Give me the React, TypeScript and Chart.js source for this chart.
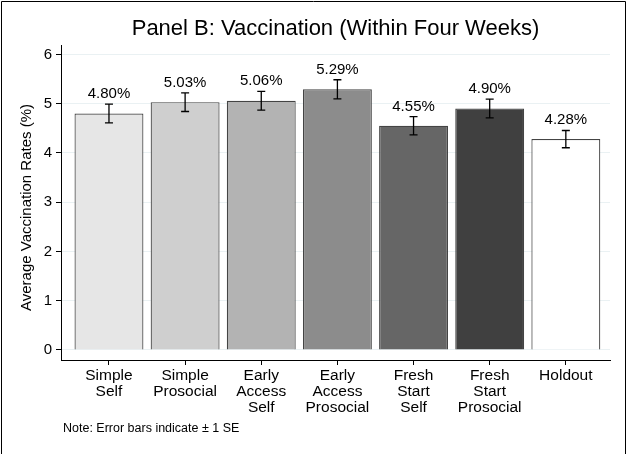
import React, { useEffect, useRef } from "react";
import { Chart, registerables } from "chart.js";

Chart.register(...registerables);

const categories: string[][] = [
  ["Simple", "Self"],
  ["Simple", "Prosocial"],
  ["Early", "Access", "Self"],
  ["Early", "Access", "Prosocial"],
  ["Fresh", "Start", "Self"],
  ["Fresh", "Start", "Prosocial"],
  ["Holdout"],
];
const rates = [4.8, 5.03, 5.06, 5.29, 4.55, 4.9, 4.28];
const standardErrors = [0.19, 0.19, 0.19, 0.195, 0.185, 0.19, 0.175];
const barColors = ["#e6e6e6", "#cfcfcf", "#b3b3b3", "#8c8c8c", "#666666", "#404040", "#ffffff"];
const yTicks = [0, 1, 2, 3, 4, 5, 6];
const titleText = "Panel B: Vaccination (Within Four Weeks)";
const yTitleText = "Average Vaccination Rates (%)";
const noteText = "Note: Error bars indicate \u00b1 1 SE";

const FONT = "'Liberation Sans', Arial, Helvetica, sans-serif";

const extrasPlugin = {
  id: "extras",
  beforeDraw(chart: any) {
    const ctx = chart.ctx;
    ctx.save();
    ctx.fillStyle = "#ffffff";
    ctx.fillRect(0, 0, chart.width, chart.height);
    ctx.restore();
  },
  afterDatasetsDraw(chart: any) {
    const ctx = chart.ctx;
    const meta = chart.getDatasetMeta(0);
    const yScale = chart.scales.y;
    ctx.save();
    meta.data.forEach((bar: any, i: number) => {
      const v = rates[i];
      const se = standardErrors[i];
      const x = bar.x;
      const yTop = yScale.getPixelForValue(v + se);
      const yBot = yScale.getPixelForValue(v - se);
      ctx.strokeStyle = "#000";
      ctx.lineWidth = 1.3;
      ctx.beginPath();
      ctx.moveTo(x, yTop);
      ctx.lineTo(x, yBot);
      ctx.moveTo(x - 4, yTop);
      ctx.lineTo(x + 4, yTop);
      ctx.moveTo(x - 4, yBot);
      ctx.lineTo(x + 4, yBot);
      ctx.stroke();
      ctx.fillStyle = "#000";
      ctx.font = `15px ${FONT}`;
      ctx.textAlign = "center";
      ctx.textBaseline = "alphabetic";
      ctx.fillText(v.toFixed(2) + "%", x, yTop - 6);
    });
    ctx.restore();
  },
  afterDraw(chart: any) {
    const ctx = chart.ctx;
    const area = chart.chartArea;
    ctx.save();
    ctx.fillStyle = "#000";
    // title
    ctx.font = `22px ${FONT}`;
    ctx.textAlign = "center";
    ctx.textBaseline = "alphabetic";
    ctx.fillText(titleText, (area.left + area.right) / 2, 35);
    // y title
    ctx.save();
    ctx.translate(27, (area.top + area.bottom) / 2 + 5);
    ctx.rotate(-Math.PI / 2);
    ctx.font = `15px ${FONT}`;
    ctx.textAlign = "center";
    ctx.textBaseline = "middle";
    ctx.fillText(yTitleText, 0, 0);
    ctx.restore();
    // note
    ctx.font = `12.5px ${FONT}`;
    ctx.textAlign = "left";
    ctx.textBaseline = "alphabetic";
    ctx.fillText(noteText, 63, 432);
    // frame
    ctx.strokeStyle = "#000";
    ctx.lineWidth = 1;
    ctx.beginPath();
    ctx.moveTo(1.5, chart.height);
    ctx.lineTo(1.5, 1.5);
    ctx.lineTo(625.5, 1.5);
    ctx.lineTo(625.5, chart.height);
    ctx.stroke();
    ctx.restore();
  },
};

export default function App() {
  const canvasRef = useRef<HTMLCanvasElement | null>(null);

  useEffect(() => {
    document.body.style.margin = "0";
    const canvas = canvasRef.current;
    if (!canvas) return;
    const chart = new Chart(canvas, {
      type: "bar",
      data: {
        datasets: [
          {
            data: rates.map((v, i) => ({ x: i, y: v })) as any,
            backgroundColor: barColors,
            borderColor: "#444444",
            borderWidth: 1.2,
            barPercentage: 0.905,
            categoryPercentage: 1,
          },
        ],
      },
      options: {
        animation: false,
        responsive: false,
        devicePixelRatio: 1,
        layout: { padding: { top: 45, right: 18, bottom: 0, left: 0 } },
        plugins: {
          legend: { display: false },
          tooltip: { enabled: false },
          title: { display: false },
        },
        scales: {
          x: {
            type: "linear",
            min: -0.63,
            max: 6.58,
            offset: false,
            afterBuildTicks: (s: any) => {
              s.ticks = categories.map((_, i) => ({ value: i }));
            },
            afterFit: (s: any) => {
              s.height = 94;
            },
            ticks: {
              autoSkip: false,
              maxRotation: 0,
              minRotation: 0,
              padding: 3,
              color: "#000",
              font: { family: FONT, size: 15.5, lineHeight: 1.03 },
              callback: (v: any) => categories[v as number] ?? "",
            },
            grid: {
              offset: false,
              drawOnChartArea: false,
              drawTicks: true,
              tickLength: 5,
              tickColor: "#000",
            },
            border: { display: true, color: "#000", width: 1 },
          },
          y: {
            type: "linear",
            min: -0.203,
            max: 6.19,
            afterBuildTicks: (s: any) => {
              s.ticks = yTicks.map((v) => ({ value: v }));
            },
            afterFit: (s: any) => {
              s.width = 61;
            },
            ticks: {
              padding: 4,
              color: "#000",
              font: { family: FONT, size: 15 },
            },
            grid: {
              color: "#eaf1f3",
              lineWidth: 1,
              tickColor: "#000",
              tickLength: 5,
            },
            border: { display: true, color: "#000", width: 1 },
          },
        },
      },
      plugins: [extrasPlugin],
    } as any);
    return () => chart.destroy();
  }, []);

  return <canvas ref={canvasRef} width={628} height={454} style={{ display: "block" }} />;
}
